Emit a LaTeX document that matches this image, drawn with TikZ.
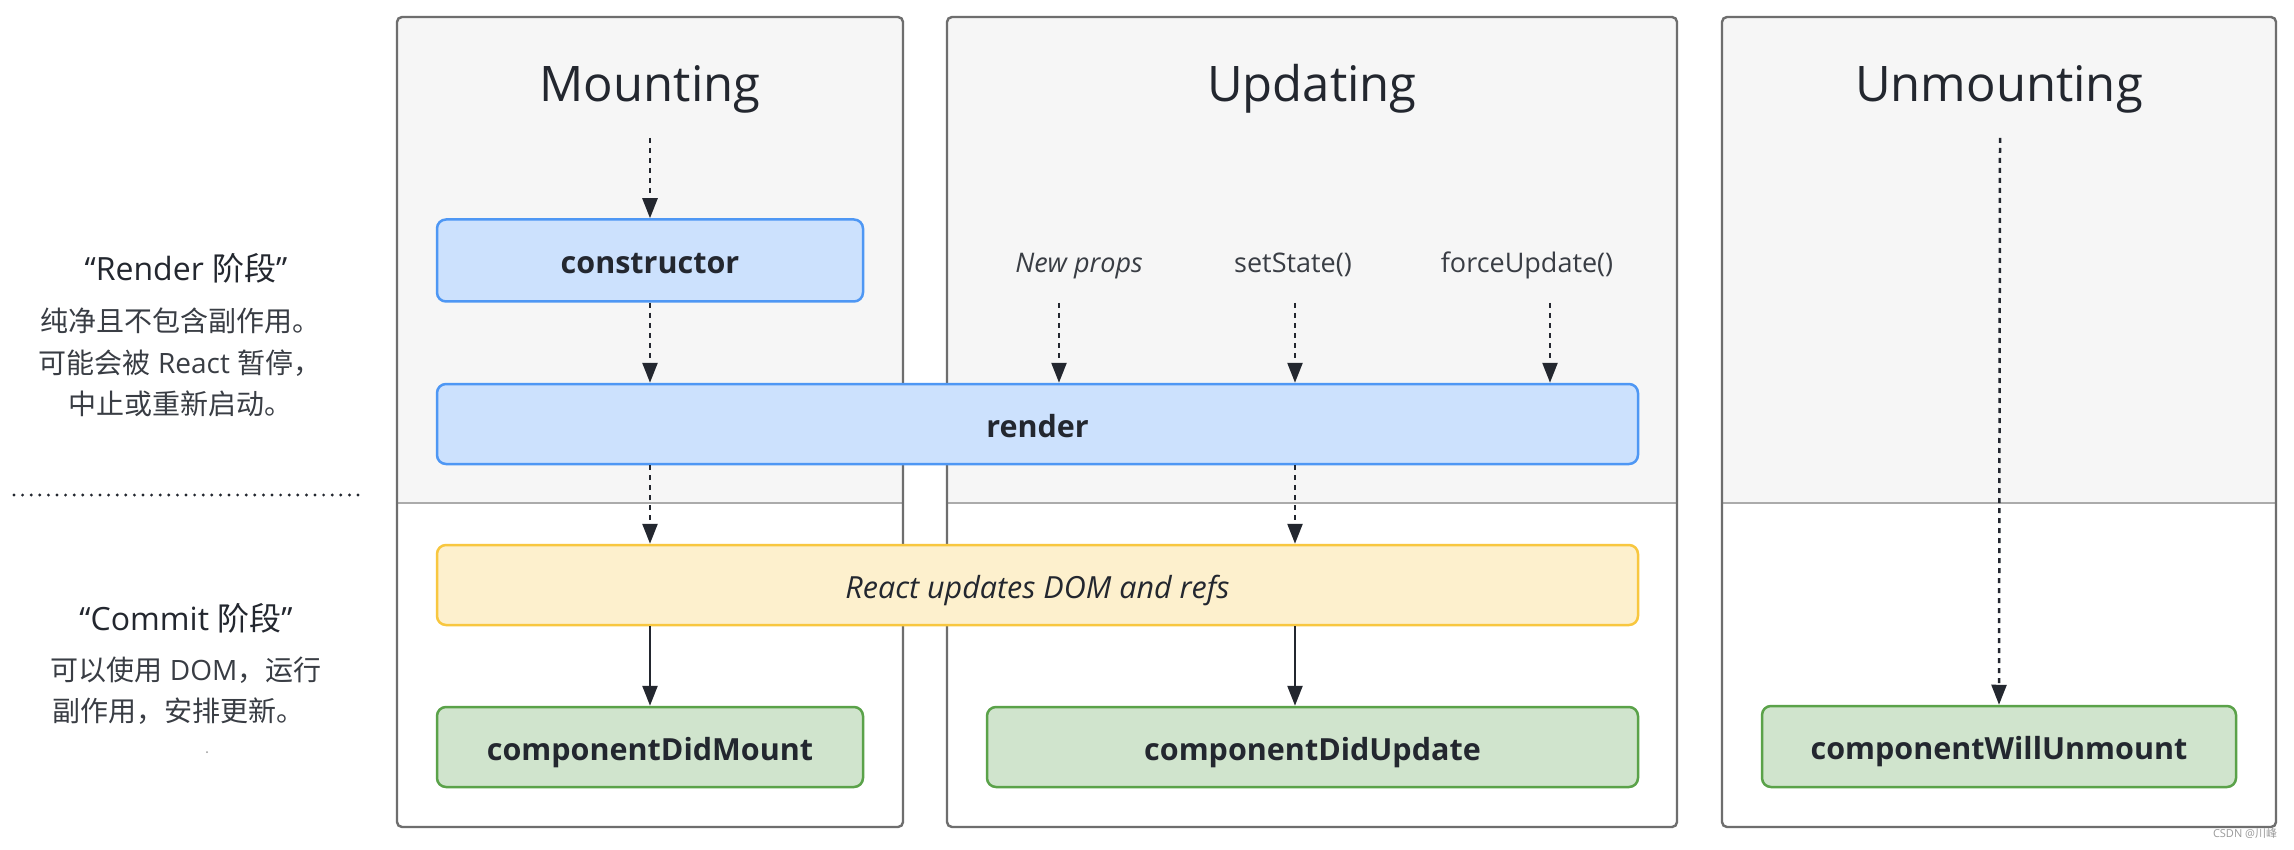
\documentclass[tikz,border=0pt]{standalone}
\usepackage{fontspec}
\setmainfont{Open Sans}
\newfontfamily\cjk{Noto Sans CJK SC}
\usetikzlibrary{arrows.meta}
\definecolor{ink}{HTML}{23272F}
\definecolor{panelline}{HTML}{6E6E6E}
\definecolor{panelfill}{HTML}{F6F6F6}
\definecolor{divcol}{HTML}{ABABAB}
\definecolor{bluefill}{HTML}{CCE1FD}
\definecolor{blueline}{HTML}{4E97F4}
\definecolor{yelfill}{HTML}{FDF0CD}
\definecolor{yelline}{HTML}{F8C73F}
\definecolor{grnfill}{HTML}{D0E4CD}
\definecolor{grnline}{HTML}{5AA249}
\definecolor{wmark}{HTML}{9A9A9A}
\begin{document}
\begin{tikzpicture}[x=1pt,y=-1pt,
  panelbox/.style={draw=panelline, line width=2.4pt, rounded corners=5pt, inner sep=0pt},
  divline/.style={draw=divcol, line width=2pt},
  titletext/.style={font=\fontsize{49}{56}\selectfont, text=ink, inner sep=0pt},
  flowbox/.style={rounded corners=9pt, line width=2.5pt, inner xsep=0pt, inner ysep=0pt,
    text height=26pt, text depth=0pt, font=\fontsize{30.5}{35}\selectfont\bfseries, text=ink},
  bluebox/.style={flowbox, fill=bluefill, draw=blueline},
  yelbox/.style={flowbox, fill=yelfill, draw=yelline, font=\fontsize{30.5}{35}\selectfont\itshape},
  grnbox/.style={flowbox, fill=grnfill, draw=grnline},
  evtext/.style={font=\fontsize{27}{32}\selectfont, text=ink!90, inner sep=0pt, anchor=base},
  headtext/.style={font=\fontsize{32}{38}\selectfont, text=ink, inner sep=0pt, anchor=base},
  bodytext/.style={font=\fontsize{28}{33}\selectfont, text=ink!90, inner sep=0pt, anchor=base},
  darrow/.style={draw=ink, line width=2.5pt, dash pattern=on 5pt off 5pt, -{Triangle[length=20pt,width=15pt]}},
  sarrow/.style={draw=ink, line width=2.5pt, -{Triangle[length=20pt,width=15pt]}}
]
\useasboundingbox (0,0) rectangle (2294,850);
\fill[white] (0,0) rectangle (2294,850);

% panel backgrounds (top gray part)
\fill[panelfill, rounded corners=5pt] (397,503) -- (397,17) -- (903,17) -- (903,503);
\fill[panelfill, rounded corners=5pt] (947,503) -- (947,17) -- (1677,17) -- (1677,503);
\fill[panelfill, rounded corners=5pt] (1722,503) -- (1722,17) -- (2276,17) -- (2276,503);
\draw[divline] (397,503) -- (903,503);
\draw[divline] (947,503) -- (1677,503);
\draw[divline] (1722,503) -- (2276,503);

% panels
\node[panelbox, minimum width=506pt, minimum height=810pt] (mountP) at (650,422) {};
\node[panelbox, minimum width=730pt, minimum height=810pt] (updP) at (1312,422) {};
\node[panelbox, minimum width=554pt, minimum height=810pt] (unmP) at (1999,422) {};

% titles
\node[titletext, anchor=base] (tMount) at (650,102) {Mounting};
\node[titletext, anchor=base] (tUpd) at (1312,102) {Updating};
\node[titletext, anchor=base] (tUnm) at (1999,102) {Unmounting};

% boxes
\node[bluebox, minimum width=426pt, minimum height=82pt] (ctor) at (650,260.5) {constructor};
\node[bluebox, minimum width=1201pt, minimum height=80pt] (render) at (1037.5,424) {render};
\node[yelbox, minimum width=1201pt, minimum height=80pt] (dom) at (1037.5,585) {React updates DOM and refs};
\node[grnbox, minimum width=426pt, minimum height=80pt] (didMount) at (650,747) {componentDidMount};
\node[grnbox, minimum width=651pt, minimum height=80pt] (didUpd) at (1312.5,747) {componentDidUpdate};
\node[grnbox, minimum width=474pt, minimum height=81pt] (willUnm) at (1999,746.5) {componentWillUnmount};

% update triggers
\node[evtext, font=\fontsize{27}{32}\selectfont\itshape] (newProps) at (1079,273) {New props};
\node[evtext] (setSt) at (1293,273) {setState()};
\node[evtext] (forceUp) at (1527,273) {forceUpdate()};

% arrow start points
\coordinate (mStart) at (650,138);
\coordinate (npStart) at (1059,303);
\coordinate (ssStart) at (1295,303);
\coordinate (fuStart) at (1550,303);
\coordinate (uStart) at (2000,138);

% mounting arrows
\draw[darrow] (mStart) -- (ctor.north);
\draw[darrow] (ctor.south) -- (ctor.south |- render.north);
\draw[darrow] (ctor.south |- render.south) -- (ctor.south |- dom.north);
\draw[sarrow] (ctor.south |- dom.south) -- (didMount.north);

% updating arrows
\draw[darrow] (npStart) -- (npStart |- render.north);
\draw[darrow] (ssStart) -- (ssStart |- render.north);
\draw[darrow] (fuStart) -- (fuStart |- render.north);
\draw[darrow] (ssStart |- render.south) -- (ssStart |- dom.north);
\draw[sarrow] (ssStart |- dom.south) -- (ssStart |- didUpd.north);

% unmounting arrow
\draw[darrow] (uStart) -- (willUnm.north);

% left legend
\node[headtext] (renderHead) at (186,281) {“Render {\cjk 阶段}”};
\node[bodytext] (renderL1) at (180,331) {\cjk 纯净且不包含副作用。};
\node[bodytext] (renderL2) at (180,373) {{\cjk 可能会被} React {\cjk 暂停，}};
\node[bodytext] (renderL3) at (180,414) {\cjk 中止或重新启动。};
\draw[ink, line width=3.2pt, line cap=round, dash pattern=on 0pt off 8.6pt] (14,495) -- (358,495);
\node[headtext] (commitHead) at (186,630) {“Commit {\cjk 阶段}”};
\node[bodytext] (commitL1) at (186,680) {{\cjk 可以使用} DOM{\cjk ，运行}};
\node[bodytext] (commitL2) at (178,721) {\cjk 副作用，安排更新。};
\fill[wmark] (207,752) circle (1pt);

% watermark
\node[font=\fontsize{11}{13}\selectfont, text=wmark, inner sep=0pt, anchor=base] (wm) at (2245,837) {CSDN @{\cjk 川峰}};
\end{tikzpicture}
\end{document}
